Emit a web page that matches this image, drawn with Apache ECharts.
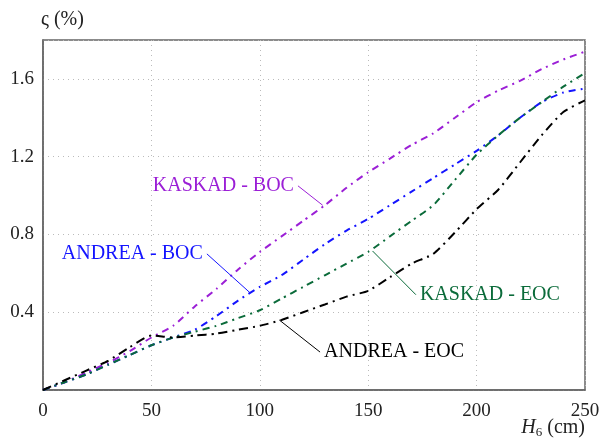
<!DOCTYPE html>
<html>
<head>
<meta charset="utf-8" />
<title>chart</title>
<style>
  html, body { margin: 0; padding: 0; background: #fff; }
  #box { width: 602px; height: 440px; }
</style>
</head>
<body>
<div id="box"></div>
<script src="https://cdn.jsdelivr.net/npm/echarts@6/dist/echarts.min.js"></script>
<script>
// H6 (cm)
var hArr = [0,10,20,30,40,50,60,70,80,90,100,110,120,130,140,150,160,170,180,190,200,210,220,230,240,250];
// sigma (%)
var kaskadBoc = [0,0.04,0.09,0.14,0.20,0.27,0.33,0.43,0.52,0.62,0.71,0.79,0.87,0.95,1.04,1.12,1.19,1.26,1.32,1.40,1.48,1.54,1.59,1.65,1.70,1.74];
var andreaBoc = [0,0.04,0.08,0.13,0.18,0.23,0.27,0.31,0.38,0.46,0.53,0.59,0.67,0.75,0.82,0.88,0.95,1.02,1.09,1.16,1.23,1.31,1.40,1.48,1.53,1.55];
var kaskadEoc = [0,0.04,0.08,0.13,0.18,0.23,0.27,0.30,0.33,0.37,0.41,0.47,0.53,0.59,0.65,0.71,0.79,0.87,0.95,1.08,1.21,1.31,1.40,1.48,1.56,1.63];
var andreaEoc = [0,0.05,0.10,0.15,0.22,0.28,0.27,0.28,0.29,0.31,0.33,0.36,0.40,0.44,0.48,0.51,0.58,0.65,0.70,0.81,0.93,1.03,1.17,1.31,1.43,1.49];
var seriesNames = ['KASKAD - BOC','ANDREA - BOC','KASKAD - EOC','ANDREA - EOC'];
var yTicks = [0.4,0.8,1.2,1.6];

var serif = 'Liberation Serif';

function pairs(vals) {
  var out = [];
  for (var i = 0; i < hArr.length; i++) out.push([hArr[i], vals[i]]);
  return out;
}

// leader line from label anchor to curve, label text at anchor
function makeSeries(name, vals, color, dash, from, to, side) {
  return {
    name: name,
    type: 'line',
    data: pairs(vals),
    smooth: 0.2,
    showSymbol: false,
    symbol: 'none',
    lineStyle: { color: color, width: 2, type: dash },
    z: 3,
    markLine: {
      silent: true,
      symbol: ['none','none'],
      label: { show: false },
      lineStyle: { color: color, width: 1, type: 'solid' },
      data: [[{ coord: from }, { coord: to }]]
    },
    markPoint: {
      silent: true,
      symbol: 'circle',
      symbolSize: 0,
      data: [{ coord: from }],
      label: {
        show: true,
        position: side,
        distance: 4,
        formatter: name,
        color: color,
        fontFamily: serif,
        fontSize: 20
      }
    }
  };
}

var chart = echarts.init(document.getElementById('box'));
chart.setOption({
  animation: false,
  grid: {
    left: 43, right: 17, top: 40, bottom: 50,
    containLabel: false, outerBoundsMode: 'none',
    show: true, borderColor: '#666', borderWidth: 1.5
  },
  xAxis: {
    type: 'value', min: 0, max: 250, interval: 50,
    name: '{i|H}{s|6} (cm)',
    nameLocation: 'end',
    nameGap: 0,
    nameMoveOverlap: false,
    nameTextStyle: {
      align: 'right', verticalAlign: 'top', padding: [26,0,0,0],
      fontFamily: serif, fontSize: 20, color: '#222',
      rich: {
        i: { fontFamily: serif, fontSize: 20, fontStyle: 'italic', color: '#222' },
        s: { fontFamily: serif, fontSize: 13, color: '#222', padding: [10,0,0,0] }
      }
    },
    axisLine: { lineStyle: { color: '#666', width: 1.5 } },
    axisTick: { show: false },
    axisLabel: { fontFamily: serif, fontSize: 19, color: '#222', margin: 12 },
    splitLine: { show: true, lineStyle: { color: '#bbb', type: [1,4], width: 1 } }
  },
  yAxis: {
    type: 'value', min: 0, max: 1.8, interval: 0.4,
    name: 'ς (%)',
    nameLocation: 'end',
    nameGap: 10,
    nameTextStyle: { align: 'left', fontFamily: serif, fontSize: 20, color: '#222', padding: [0,0,0,-2] },
    axisLine: { lineStyle: { color: '#666', width: 1.5 } },
    axisTick: { show: false },
    axisLabel: {
      fontFamily: serif, fontSize: 19, color: '#222', margin: 9,
      formatter: function (v) {
        for (var i = 0; i < yTicks.length; i++) {
          if (Math.abs(v - yTicks[i]) < 1e-6) return yTicks[i].toFixed(1);
        }
        return '';
      }
    },
    splitLine: { show: true, lineStyle: { color: '#bbb', type: [1,4], width: 1 } }
  },
  series: [
    makeSeries(seriesNames[0], kaskadBoc, '#9b1fd6', [7,5,2,5], [117.6,1.05], [129,0.95], 'left'),
    makeSeries(seriesNames[1], andreaBoc, '#1414ff', [7,5,2,5], [75.6,0.70], [95.5,0.50], 'left'),
    makeSeries(seriesNames[2], kaskadEoc, '#0b6b3a', [7,5,2,5], [172,0.49], [152,0.715], 'right'),
    makeSeries(seriesNames[3], andreaEoc, '#000000', [9,5,2,5], [127.8,0.195], [109,0.36], 'right')
  ]
});
</script>
</body>
</html>
